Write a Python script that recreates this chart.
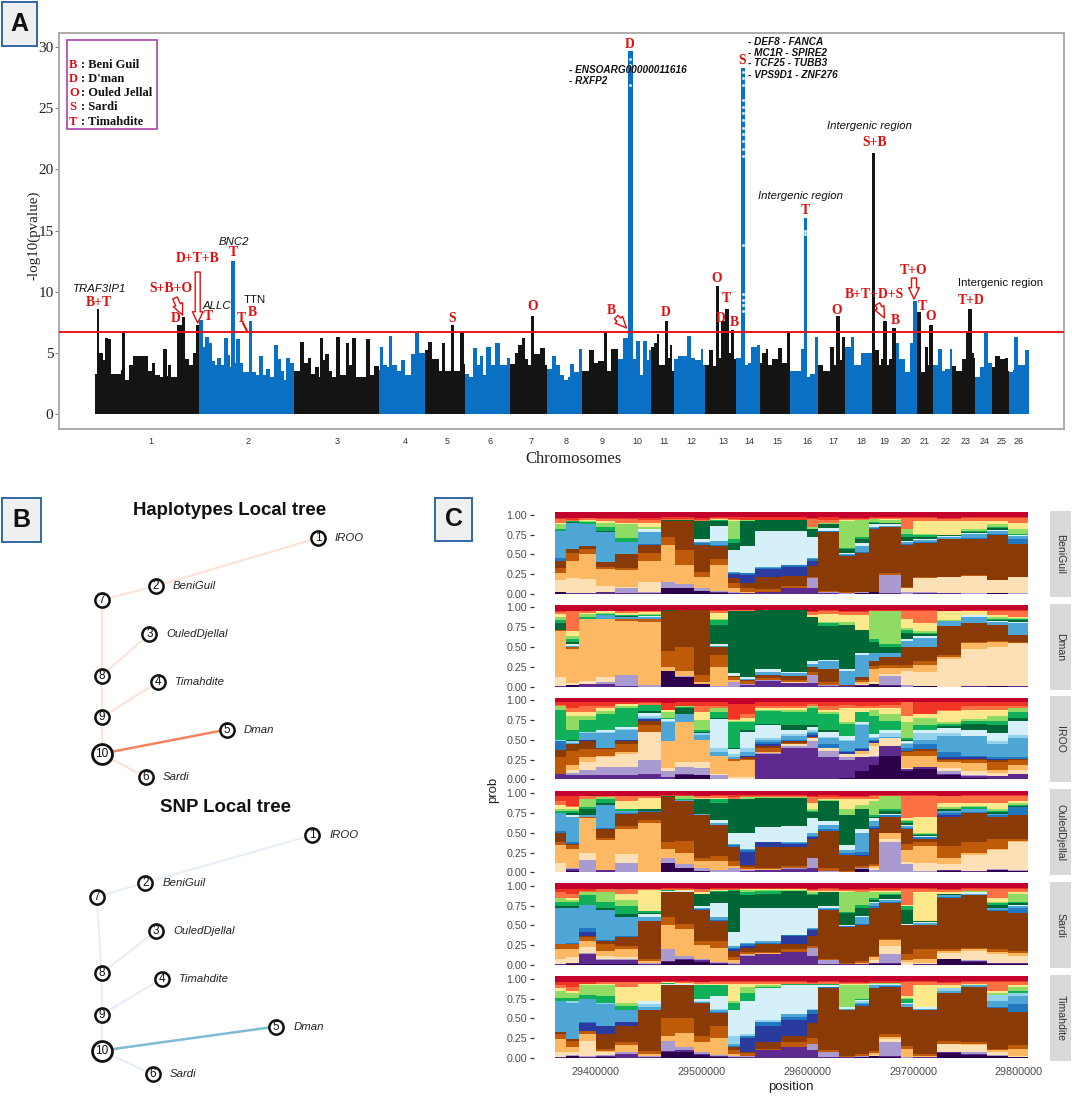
import numpy as np, pandas as pd, matplotlib
matplotlib.use("Agg")
import matplotlib.pyplot as plt, seaborn as sns
from matplotlib.patches import FancyArrowPatch, Rectangle

W, H = 1072, 1097
# ---------- Panel A data: Manhattan envelope (cumulative position, -log10 p) ----------
chrom_starts = [95,199.4,294.4,379,424.6,465.2,510,547.5,582.4,618,651.3,674.4,704.6,736,760,790.4,818,845.4,872,895.6,917,933,952,975.4,992,1009]
chrom_end = 1028.6
tick_pos = [150.5,248.3,337.5,405.6,447,490,531,566.5,602,637.7,664.2,691.7,723.6,749,777,807.4,833.5,861,884.8,906,924.8,945.5,965.5,985,1002,1019]
peak_x = [95,97,99,103.3,104.9,108.5,111,121,122,125,128.6,133,148,152,155,160,163,167.4,168.4,171.5,177,182,185.5,189,193,196,
 199.4,203.5,205,208.7,212,215,217,221,224,228,230.4,231.4,235.2,236.5,239.7,243,248.6,252.4,256,259,263.4,266.5,269.6,273.7,278,281,284,286,290,
 294.4,299.6,303.7,308,311,315,319,320,323.3,325.4,329.5,331.6,335.7,340,346,349,352,356,360.5,365.7,370,374,
 379,380,383,387.4,389.5,392.5,396.7,400.8,405,411,415,419.4,
 424.6,427.7,431.8,436,439,442,445,451,454.5,460.4,463.8,
 465.2,469,473,477,480,483.4,486.5,490.7,495,500,504,507,
 510,515.5,518,521.7,525,528,531,534.4,540,545,
 547.5,552.2,556.3,560.4,564.4,568.5,570.5,573.6,578.7,581.7,
 582.4,589,594,598,604,607.2,611,615.3,
 618,623.5,628.2,632.6,635.7,639.8,642.8,647,649,
 651.3,654,657,659,664.9,668.3,670.5,672.4,
 674.4,678.5,686.6,690.7,694.7,701,702.9,
 704.6,709,713,715.8,719.2,721.5,725.3,729,731,734.4,
 736,740.9,744.6,748,751,757,
 760,762,766,768,772,778,782,787,
 790.4,801.3,804,807,810,815,
 818,823,830,834,836.2,839.7,842,
 845.4,851,854,860.7,866,
 872,875.3,879,881,883.4,886.8,889.5,892.2,
 895.6,899,905,909.9,913.3,
 917,921,925,928.5,929.5,
 933,937.7,942,945,950,
 952,955.7,962.5,966,968.2,972,973.7,
 975.4,980,984.5,988,
 992,995.4,999.8,1005,1007.6,
 1009,1013.4,1014.4,1017.8,1023.5,1024.6]
peak_h = [3.3,8.6,5,4.4,6.2,6.1,3.3,3.6,6.7,2.8,4,4.7,3.5,4.2,3.2,3,5.3,3.1,4,3,7.3,7.9,4.5,4,5,7.3,
 7.7,5.5,6.3,5.8,4.3,4,4.6,4,6.2,4.8,3.8,12.5,4.2,6.1,4.2,3.4,7.6,3.4,3.2,4.7,3.2,3.7,3,5.6,4.5,3.5,2.8,4.6,4.2,
 3.5,5.9,4.2,4.6,3.3,3.8,3,6.2,4.4,4.9,3.5,3,6.3,3.2,5.8,4,6.2,3,3,6.1,3.2,3.9,
 3.6,5.5,4,3.8,6.4,4,3.5,4.4,3.2,4.9,6.7,5,
 5.2,5.9,4.5,4.5,3.5,5.8,3.5,7.3,3.5,6.7,4.1,
 3.3,3,5.4,4,4.7,3.2,5.5,4,5.8,4,4,4.6,
 4.1,5,5.6,6.2,4.5,4,8,4.9,5.4,4,
 3.7,4.7,4,3.2,2.8,3,4.1,3.4,5.3,4.2,
 3.5,5.2,4.2,4.3,6.7,3.5,5.3,5.3,
 4.5,6.2,29.7,4.5,6,3.2,6,4.4,5.2,
 5.5,5.8,6.5,4,7.6,4.6,5.6,3.5,
 4.5,4.7,6.4,4.6,4.4,5.3,4,
 4,5.2,3.9,10.5,4.6,7.6,8.6,5,6.9,4.5,
 4.6,28.3,4,4.2,5.5,5.6,
 4.2,5,5.3,4,4.5,5.4,4.2,6.7,
 3.5,5.3,16,3,3.3,6.3,
 4,3.5,5.5,4,8,4.4,6.3,
 5.5,6.3,4,5,5,
 21.3,5.2,4,4.5,7.6,4,4.5,7,
 5.8,4.5,3.4,5.8,9.2,
 8.3,3.4,5.5,4,7.3,
 4,5.3,3.5,3.7,5.3,
 3.9,3.5,4.5,6.7,8.6,5,4.6,
 3,3.8,6.7,4.2,
 3.8,4.7,4.5,4.6,3.5,
 3.4,3.6,6.3,4,4,5.2]
threshold = 6.7
dot_x = [742.7]*17 + [630.4]*3 + [805.5]*2
dot_y = [28,27.5,26.9,25.7,25.1,24.6,24,23.4,22.9,22.3,21.7,21.1,13.8,9.8,9.3,8.9,8.4,29,28.5,26.9,15,14.7]

# ---------- Panel C data: cumulative top of each ancestry layer, in percent ----------
pos_edges = [29360950,29372000,29384000,29400000,29418000,29440000,29461000,29475000,29493000,29508000,29525000,29536000,29550000,29575000,29600000,29610000,29630000,29645000,29658000,29668000,29688000,29700000,29722000,29745000,29770000,29790000,29808500]
layer_names = ["dp","pu","lp","pe","lo","or","bo","br","db","bl","sk","ls","pa","dg","gr","lg","ye","ro","re","dr"]
layer_colors = ["#2d004b","#5e2a8e","#a99bcf","#fee0b6","#fdb863","#f28a12","#bf5b08","#8a3b05","#2b3a9e","#1f78c0","#4da6d5","#92d2ec","#d6f0fa","#006837","#10b05a","#8fdb63","#fee88c","#ff7043","#f03525","#c4002c"]
re_top = [96,96,96,96,96,96,97,97,96,97,97,97,97,97,96,97,96,96,97,97,97,97,96,97,97,97]
beniguil = dict(
 dp=[2,0,0,0,0,0,8,7,4,1,0,0,0,0,0,0,0,1,2,0,0,0,0,0,1,0],
 pu=[2,1,1,2,1,1,8,7,4,2,1,1,2,7,8,1,0,1,2,1,0,1,1,0,1,0],
 lp=[2,1,1,3,8,2,15,13,7,4,2,1,2,7,20,3,1,2,3,24,2,2,1,1,1,1],
 pe=[18,20,19,10,9,15,15,13,7,4,2,1,2,7,20,3,1,2,3,24,8,20,22,23,18,21],
 lo=[26,42,50,32,30,42,62,36,22,36,8,3,2,8,20,3,1,2,3,24,8,20,22,23,18,21],
 bo=[33,52,57,34,33,52,72,55,28,44,14,8,6,10,22,4,2,3,3,26,9,21,22,24,18,22],
 br=[42,57,60,40,50,62,92,92,62,60,20,14,22,23,35,78,48,52,82,84,62,65,70,70,75,63],
 db=[42,57,60,40,50,62,92,92,62,60,25,24,32,34,42,78,48,52,82,84,62,65,70,70,75,63],
 bl=[45,57,60,41,51,63,92,92,64,62,27,26,33,36,44,79,49,53,83,84,63,66,70,71,76,70],
 sk=[80,90,88,78,66,78,92,92,66,67,28,27,34,36,45,80,50,60,85,86,66,68,72,76,80,73],
 pa=[80,90,88,78,66,82,92,92,70,86,55,60,80,80,72,83,52,65,88,88,67,70,73,77,81,74],
 dg=[80,91,88,80,66,82,93,93,92,92,65,92,94,94,82,88,57,70,89,89,72,72,74,78,83,75],
 gr=[82,92,91,84,71,82,93,94,92,94,70,92,94,94,82,88,58,72,91,90,76,74,74,79,85,76],
 lg=[88,92,92,90,88,85,93,94,92,94,92,94,94,94,84,89,92,93,95,94,82,76,75,82,88,82],
 ye=[90,92,93,92,90,90,94,94,92,95,93,94,94,94,85,90,93,93,95,95,82,92,92,92,92,90],
 ro=[95,93,96,95,95,93,95,95,94,96,95,94,94,94,95,94,95,95,96,96,96,96,95,96,96,96], re=re_top)
dman = dict(
 dp=[0,2,0,0,0,0,20,12,3,0,0,0,0,0,0,0,0,1,3,1,0,1,0,0,1,0],
 pu=[1,2,3,4,1,0,20,12,3,0,0,2,7,5,5,1,1,2,3,2,0,1,0,1,1,1],
 lp=[1,2,4,6,15,2,20,14,4,1,6,3,8,5,15,2,1,2,4,13,2,1,0,1,1,1],
 pe=[12,5,7,12,10,2,20,14,4,1,6,3,8,6,15,2,1,3,6,16,20,18,35,47,50,55],
 lo=[70,48,85,85,83,82,25,20,6,25,8,4,8,6,15,2,1,6,22,24,23,28,37,55,57,55],
 bo=[72,50,85,85,85,85,45,50,15,40,12,7,11,8,18,6,1,9,26,27,28,33,40,57,58,56],
 br=[72,50,85,85,85,86,96,97,97,50,13,8,15,14,25,22,2,12,33,38,50,50,77,80,78,65],
 sk=[72,52,85,90,88,88,96,97,97,52,14,10,18,17,29,33,20,40,42,42,58,62,83,88,82,80],
 pa=[72,54,85,90,88,89,96,97,97,54,17,12,22,19,33,34,22,42,43,43,60,64,83,90,83,82],
 dg=[80,56,85,91,89,89,97,97,97,78,95,96,97,97,88,76,78,72,56,50,68,66,83,90,84,84],
 gr=[84,60,88,92,90,90,97,97,97,84,95,96,97,97,88,80,78,72,60,54,72,68,83,90,85,85],
 lg=[88,64,92,93,91,92,97,97,97,86,95,96,97,97,88,82,82,72,95,96,74,70,84,91,88,87],
 ye=[92,70,93,95,93,94,97,97,97,93,96,96,97,97,90,92,90,90,95,96,85,80,95,95,90,88],
 ro=[94,95,95,96,96,95,97,97,97,96,97,97,97,97,94,96,94,94,96,96,96,95,96,96,96,96], re=re_top)
iroo = dict(
 dp=[0,0,1,1,1,1,1,6,5,1,0,0,0,0,0,0,2,10,18,30,10,13,5,2,1,1],
 pu=[7,6,5,6,6,7,3,7,6,1,0,0,32,40,40,28,25,28,28,42,13,15,7,4,4,7],
 lp=[7,8,12,16,16,25,11,16,14,6,1,1,33,42,48,36,28,28,30,42,13,15,10,6,4,7],
 pe=[7,12,22,28,32,60,14,22,22,7,3,3,33,44,52,40,32,32,42,52,14,16,14,10,8,12],
 lo=[7,18,28,30,35,60,48,72,50,30,23,24,34,45,52,40,32,36,46,52,30,30,22,20,12,18],
 bo=[28,36,38,38,44,68,48,72,50,30,26,26,40,46,53,40,32,36,46,52,34,36,25,25,22,24],
 br=[37,44,48,40,48,74,48,72,50,30,26,28,42,48,54,40,32,36,46,52,36,38,26,26,24,26],
 db=[37,44,50,40,50,76,48,72,50,30,26,30,45,48,56,40,34,38,48,52,36,38,28,28,26,26],
 bl=[48,44,50,40,50,76,48,72,50,30,26,30,47,50,58,45,36,40,50,52,40,45,35,30,28,28],
 sk=[48,46,58,58,62,78,72,82,56,35,28,34,50,55,60,52,48,68,52,54,45,50,55,55,45,52],
 ls=[50,48,60,60,64,80,74,82,58,40,32,40,52,57,62,54,50,70,54,58,46,58,58,55,48,56],
 pa=[50,48,60,62,66,84,76,82,58,76,38,60,68,62,66,60,55,72,57,62,48,62,65,62,58,74],
 dg=[50,50,60,62,66,86,76,90,60,78,40,62,70,68,68,62,55,72,57,62,50,62,67,70,68,78],
 gr=[88,62,75,82,90,94,78,91,62,85,72,72,86,85,90,82,70,85,80,74,52,68,70,73,73,85],
 lg=[92,80,80,86,92,94,85,92,75,90,74,74,88,88,93,85,72,85,88,82,72,78,72,76,80,90],
 ye=[92,85,85,90,95,94,88,92,85,90,75,78,90,90,93,88,90,90,90,90,80,82,86,88,88,90],
 ro=[94,90,92,92,95,96,88,92,92,92,76,82,92,92,95,92,94,92,92,94,97,82,88,92,92,92],
 re=[97,97,97,97,97,97,96,97,97,97,95,95,97,97,97,97,97,97,97,97,97,97,97,97,97,97])
ouled = dict(
 dp=[0,2,0,0,0,0,12,5,2,0,0,0,0,0,0,0,0,4,1,1,0,0,2,1,3,2],
 pu=[1,4,1,3,1,0,12,5,2,1,1,2,3,4,6,1,1,4,1,1,0,1,3,2,3,2],
 lp=[1,6,15,1,12,1,18,10,6,3,5,3,3,5,18,2,1,5,3,38,10,2,3,2,4,3],
 pe=[12,6,25,2,23,1,18,10,6,3,5,3,3,5,18,2,1,5,6,42,13,12,10,22,28,38],
 lo=[34,30,69,41,55,62,30,24,14,14,8,4,4,5,18,2,1,5,8,50,28,33,18,25,30,40],
 bo=[38,34,70,43,58,66,38,40,18,20,14,7,5,8,18,5,2,8,11,50,36,38,33,38,42,42],
 br=[50,36,70,55,74,76,95,90,72,60,32,9,32,32,42,52,22,20,55,70,55,42,70,75,70,72],
 db=[50,36,70,55,74,76,95,90,72,60,32,26,38,36,45,52,22,22,56,70,55,42,72,75,70,72],
 bl=[52,38,70,56,75,77,95,90,72,60,34,28,38,37,46,55,24,26,58,72,56,44,75,76,72,82],
 sk=[75,70,72,85,78,78,95,91,74,62,36,30,38,38,50,60,28,50,65,72,58,45,78,80,74,82],
 pa=[75,72,72,85,78,78,95,91,74,66,50,50,57,58,68,65,35,55,68,73,60,46,78,80,74,82],
 dg=[75,75,80,88,78,80,96,91,92,88,92,92,94,94,76,90,72,80,70,78,62,47,80,80,76,84],
 gr=[77,78,82,92,80,80,96,92,92,92,92,92,94,94,78,90,72,80,72,80,65,48,80,82,78,85],
 lg=[80,80,93,95,80,80,96,96,92,92,92,95,95,95,80,91,80,85,90,96,66,49,82,84,80,88],
 ye=[85,82,93,95,90,94,96,96,94,94,92,95,95,95,88,92,92,92,92,96,68,70,88,88,88,90],
 ro=[90,84,96,96,96,96,96,96,96,96,95,96,96,96,95,95,95,95,96,96,96,96,96,96,96,96], re=re_top)
sardi = dict(
 dp=[0,1,1,1,1,0,4,6,4,1,0,0,0,0,0,0,0,0,1,1,0,0,7,4,1,1],
 pu=[1,2,14,6,6,1,5,7,6,2,1,12,14,16,12,1,1,1,2,3,0,1,7,5,2,2],
 lp=[1,3,15,8,7,2,20,12,8,4,3,13,14,16,22,6,1,1,3,14,0,1,8,6,3,2],
 pe=[8,10,23,12,10,3,20,12,8,4,3,13,14,16,22,6,1,1,6,24,4,2,15,18,14,12],
 lo=[20,20,30,18,20,5,50,45,25,22,6,14,15,17,22,6,1,3,10,32,6,7,18,20,16,15],
 bo=[26,26,35,26,24,8,60,52,30,30,10,16,16,20,24,8,2,5,12,33,14,20,20,22,20,18],
 br=[26,26,37,30,35,55,92,92,70,55,18,22,26,26,36,70,48,50,72,78,50,50,85,88,68,66],
 db=[26,26,42,30,35,55,92,92,70,55,20,24,26,36,44,70,48,50,72,78,50,50,85,88,68,66],
 bl=[26,28,47,32,36,55,92,92,71,57,22,26,28,38,46,71,49,52,74,79,50,51,86,88,70,72],
 sk=[72,72,76,70,60,60,92,92,72,60,24,28,30,38,47,72,49,60,78,82,51,53,88,90,72,75],
 pa=[72,72,76,70,60,64,93,93,74,78,42,72,72,72,72,75,50,62,80,83,52,54,88,92,72,76],
 dg=[75,75,76,72,65,66,94,93,90,92,94,88,90,94,88,92,66,72,82,88,70,56,90,92,76,78],
 gr=[80,80,88,80,74,68,95,93,90,93,95,92,94,94,90,92,67,76,84,90,75,56,90,92,78,80],
 lg=[85,82,92,92,82,68,95,93,90,93,95,95,95,95,92,92,92,92,92,92,75,56,90,93,80,90],
 ye=[85,85,92,92,90,95,95,95,92,95,95,96,96,96,94,94,94,92,93,94,76,92,92,94,84,92],
 ro=[92,90,94,96,96,96,96,96,96,96,96,96,96,96,95,96,95,95,95,95,96,96,95,96,96,96], re=re_top)
timahdite = dict(
 dp=[0,2,0,1,0,0,8,8,4,1,0,0,0,0,0,0,0,1,2,1,0,0,6,4,3,1],
 pu=[1,3,1,3,5,1,9,10,5,2,1,1,10,14,10,1,1,1,3,2,0,1,7,5,3,1],
 lp=[1,4,3,4,7,2,22,14,8,4,2,2,10,14,18,7,1,2,3,20,1,1,8,7,4,1],
 pe=[8,8,22,8,8,3,22,14,8,4,2,2,10,14,18,7,1,2,4,24,1,1,18,16,8,2],
 lo=[24,14,30,9,16,5,28,32,20,25,5,3,10,14,18,7,1,2,6,26,12,2,18,18,10,12],
 bo=[30,22,34,12,20,9,50,50,28,40,10,6,11,20,25,10,2,5,9,30,15,5,22,20,12,16],
 br=[33,24,34,30,40,60,92,92,70,57,14,8,20,28,44,88,60,66,88,90,65,60,82,90,63,58],
 db=[33,24,44,40,45,60,92,92,70,57,14,25,40,48,55,88,60,66,88,90,65,60,82,90,63,58],
 bl=[33,24,46,41,46,60,92,92,70,58,15,28,45,52,60,89,60,68,88,91,65,60,82,90,65,68],
 sk=[72,70,75,68,60,65,92,92,71,60,18,28,46,55,61,90,62,70,92,92,68,62,85,92,72,78],
 ls=[72,72,75,70,60,68,92,92,72,62,28,30,48,55,62,90,62,72,92,92,68,62,88,92,80,82],
 pa=[72,72,75,70,60,72,93,93,74,78,60,72,88,92,92,92,64,73,93,93,70,64,88,92,80,82],
 gr=[76,76,80,78,66,72,95,94,92,92,70,82,90,93,93,93,64,75,94,94,74,64,88,92,80,84],
 lg=[85,82,92,92,70,72,95,94,92,92,72,90,92,94,93,93,92,92,95,95,76,65,88,92,82,90],
 ye=[88,85,94,94,90,93,96,95,93,94,93,94,94,94,94,94,94,94,95,95,78,92,92,94,85,92],
 ro=[92,90,94,96,96,96,96,96,96,96,96,96,96,96,95,96,95,95,95,95,96,96,95,96,96,96], re=re_top)
breeds = ["BeniGuil","Dman","IROO","OuledDjellal","Sardi","Timahdite"]
breed_data = [beniguil,dman,iroo,ouled,sardi,timahdite]
breed_zero = [594,686.7,779.3,872.3,965,1058]
pos_ticks = [29400000,29500000,29600000,29700000,29800000]

# ---------- Panel B data ----------
tree_edges = [(7,2),(2,1),(7,8),(8,3),(8,9),(9,4),(9,10),(10,6),(10,5)]
tree_names = {1:"IROO",2:"BeniGuil",3:"OuledDjellal",4:"Timahdite",5:"Dman",6:"Sardi"}
hap_xy = {1:(318,538),2:(155.7,586),3:(149.3,634),4:(158,682),5:(226.7,729.6),6:(145.7,777.4),7:(101.7,600),8:(101.7,675.6),9:(101.7,717.3),10:(101.7,753.7)}
snp_xy = {1:(312.3,835.2),2:(145.3,882.7),3:(156,930.9),4:(161.7,978.7),5:(276,1026.6),6:(152.7,1074.4),7:(96.7,896.8),8:(101.7,973),9:(101.7,1014.7),10:(101.7,1050.6)}
hap_lbl = {1:335,2:172.7,3:166,4:175.3,5:243.3,6:162.3}
snp_lbl = {1:330,2:162.7,3:173.3,4:179.3,5:293.3,6:170}

# ---------- Labels of panel A ----------
red_labels = [("B+T",98.8,303),("S+B+O",171,289),("D+T+B",197.7,259),("D",175.6,319),("T",208,317),("T",233.8,253),("T",241,318),("B",252.4,312),("S",452,318),("O",533,307),
 ("D",630,44),("S",742.6,60),("B",611,311),("D",666,313),("O",717,279),("T",726.6,298),("D",721,318),("B",734,322),("T",805,210),("O",837,310),("S+B",875,143),("B+T+D+S",874.6,294),("B",895,321),("T+O",914,271),("T",922.4,306),("O",931,317),("T+D",971,301)]
gene_labels = [("TRAF3IP1",99.9,289,"center","italic","normal"),("BNC2",234,242,"center","italic","normal"),("ALLC",216.6,306,"center","italic","normal"),("TTN",254.5,300,"center","normal","normal"),
 ("Intergenic region",869.5,126,"center","italic","normal"),("Intergenic region",800,196,"center","italic","normal"),("Intergenic region",1000,283,"center","normal","normal"),
 ("- ENSOARG00000011616",568.8,70,"left","italic","bold"),("- RXFP2",568.8,81,"left","italic","bold"),
 ("- DEF8 - FANCA",747.7,42,"left","italic","bold"),("- MC1R - SPIRE2",747.7,53,"left","italic","bold"),("- TCF25 - TUBB3",747.7,63,"left","italic","bold"),("- VPS9D1 - ZNF276",747.7,75,"left","italic","bold")]
legend_rows = [("B",": Beni Guil",64.5),("D",": D'man",79),("O",": Ouled Jellal",93),("S",": Sardi",107.5),("T",": Timahdite",122)]
hollow_arrows = [(197.7,272,197.7,323,"big"),(175,298,182.5,315,"small"),(616.3,317,626.5,328,"small"),(877.6,304,884.4,318,"small"),(914,278,914,299,"big")]

# ---------- Drawing ----------
sns.set_theme(style="white")
plt.rcParams["font.family"] = ["Liberation Sans","DejaVu Sans"]
fig = plt.figure(figsize=(W/100,H/100),dpi=100,facecolor="white")
def px_axes(l,t,r,b,**k):
    return fig.add_axes([l/W,1-b/H,(r-l)/W,(b-t)/H],**k)
SERIF = "Liberation Serif"

# Panel A
axA = px_axes(59,33,1064,429)
edges = [float(v) for v in peak_x]+[chrom_end]
edge_arr = np.array(edges)
chrom_idx = np.searchsorted(chrom_starts,peak_x,side="right")-1
manh = pd.DataFrame({"x":(edge_arr[:-1]+edge_arr[1:])/2,"h":peak_h,"grp":np.where(chrom_idx%2==0,"odd","even")})
sns.histplot(data=manh,x="x",weights="h",bins=edges,hue="grp",palette={"odd":"#141414","even":"#0a70c4"},
             multiple="layer",element="step",alpha=1,linewidth=0,legend=False,ax=axA)
sns.scatterplot(x=dot_x,y=dot_y,s=5,color="#bfe6f2",linewidth=0,ax=axA,zorder=3)
axA.axhline(threshold,color="#e8141c",lw=1.4,zorder=4)
axA.set_xlim(59,1064); axA.set_ylim(-1.23,31.15)
axA.set_xticks(tick_pos); axA.set_xticklabels([str(i+1) for i in range(26)],fontsize=6.5,color="#333333")
axA.set_yticks(range(0,31,5)); axA.set_yticklabels([str(v) for v in range(0,31,5)],fontsize=11,family=SERIF,color="#222222")
axA.tick_params(axis="y",length=3,width=0.8,color="#888888",pad=1,left=True)
axA.tick_params(axis="x",length=0,pad=6)
axA.set_xlabel(""); axA.set_ylabel("")
for s in axA.spines.values(): s.set_color("#a6a6a6"); s.set_linewidth(1.3)

# Panel C
order_top_first = layer_names[::-1]
palette = dict(zip(layer_names,layer_colors))
pe_list = [float(v) for v in pos_edges]
pe = np.array(pe_list); mids = (pe[:-1]+pe[1:])/2
px_left, px_right = 534, 1048
x_per_px = 100000/105.75
xlim_c = (29400000+(px_left-596)*x_per_px, 29400000+(px_right-596)*x_per_px)
for name,rows,zero in zip(breeds,breed_data,breed_zero):
    ax = px_axes(px_left,zero-81.6,px_right,zero+2.4)
    prev = np.zeros(26); recs = []
    for lay in layer_names:
        if lay=="dr":
            top = np.full(26,103.0)
        elif lay in rows:
            top = np.maximum(np.array(rows[lay],float),prev)
        else:
            top = prev
        recs.append(pd.DataFrame({"position":mids,"layer":lay,"prob":(top-prev)/100}))
        prev = top
    df = pd.concat(recs,ignore_index=True)
    sns.histplot(data=df,x="position",weights="prob",bins=pe_list,hue="layer",hue_order=order_top_first,palette=palette,
                 multiple="stack",element="step",alpha=1,linewidth=0,legend=False,ax=ax)
    ax.set_xlim(*xlim_c); ax.set_ylim(-0.03,1.03)
    ax.set_yticks([0,.25,.5,.75,1]); ax.set_yticklabels(["0.00","0.25","0.50","0.75","1.00"],fontsize=7.7,color="#4d4d4d")
    ax.tick_params(axis="y",length=3,width=0.9,color="#333333",pad=2,left=True)
    ax.set_xlabel(""); ax.set_ylabel("")
    if name==breeds[-1]:
        ax.set_xticks(pos_ticks); ax.set_xticklabels([str(p) for p in pos_ticks],fontsize=7.8,color="#4d4d4d")
        ax.tick_params(axis="x",length=0,pad=5)
    else:
        ax.set_xticks([])
    for s in ax.spines.values(): s.set_visible(False)

# Overlay in pixel coordinates
ov = fig.add_axes([0,0,1,1],zorder=10); ov.set_xlim(0,W); ov.set_ylim(H,0); ov.axis("off"); ov.patch.set_alpha(0)
def T(x,y,s,**k):
    k.setdefault("ha","center"); k.setdefault("va","center")
    return ov.text(x,y,s,**k)
for l,t,r,b,c in [(1.7,1.7,37,45.7,"A"),(1.7,498.4,40.7,541.7,"B"),(435,498,472,541,"C")]:
    ov.add_patch(Rectangle((l,t),r-l,b-t,fc="#efefef",ec="#2e6aa6",lw=1.4))
    T((l+r)/2,(t+b)/2,c,fontsize=18,fontweight="bold",color="#111111")
T(33.5,235,"-log10(pvalue)",rotation=90,family=SERIF,fontsize=10.8,color="#222222")
T(574,459,"Chromosomes",family=SERIF,fontsize=12,color="#222222")
ov.add_patch(Rectangle((66.5,40),90.9,89,fc="white",ec="#b44fb0",lw=1.3))
for a,b,y in legend_rows:
    T(69.2,y,a,ha="left",family=SERIF,fontweight="bold",fontsize=9,color="#e01010")
    T(81,y,b,ha="left",family=SERIF,fontweight="bold",fontsize=9,color="#111111")
for s,x,y in red_labels:
    T(x,y,s,family=SERIF,fontweight="bold",fontsize=9.8,color="#e01010")
for s,x,y,ha,st,wt in gene_labels:
    T(x,y,s,ha=ha,style=st,fontweight=wt,fontsize=7.2 if wt=="bold" else 8.2,color="#111111")
for x0,y0,x1,y1,kind in hollow_arrows:
    sty = "simple,head_length=0.9,head_width=0.85,tail_width=0.4" if kind=="big" else "simple,head_length=0.9,head_width=0.8,tail_width=0.4"
    ov.add_patch(FancyArrowPatch((x0,y0),(x1,y1),arrowstyle=sty,mutation_scale=9,fc="white",ec="#e01010",lw=1,shrinkA=0,shrinkB=0,zorder=5))
ov.plot([243,247],[323,331],color="#e01010",lw=1.5)

# facet strips and axis titles of panel C
for name,zero in zip(breeds,breed_zero):
    ov.add_patch(Rectangle((1050,zero-83),21,86,fc="#d9d9d9",ec="none"))
    T(1060.5,zero-40,name,rotation=-90,fontsize=7.6,color="#333333")
T(791,1087,"position",fontsize=9.5,color="#222222")
T(493,790,"prob",rotation=90,fontsize=9.5,color="#222222")

# Panel B
def draw_tree(xy,lbl,light,strong):
    for a,b in tree_edges:
        st = (a,b)==(10,5)
        ov.plot([xy[a][0],xy[b][0]],[xy[a][1],xy[b][1]],color=strong if st else light,lw=1.8 if st else 1.5,zorder=1,solid_capstyle="round")
    nodes = pd.DataFrame({"x":[xy[i][0] for i in xy],"y":[xy[i][1] for i in xy],"n":list(xy)})
    sns.scatterplot(data=nodes[nodes.n<10],x="x",y="y",s=105,color="white",edgecolor="#111111",linewidth=1.8,ax=ov,zorder=2,legend=False)
    sns.scatterplot(data=nodes[nodes.n==10],x="x",y="y",s=205,color="white",edgecolor="#111111",linewidth=2,ax=ov,zorder=2,legend=False)
    for i,(x,y) in xy.items():
        T(x,y,str(i),fontsize=8.5,color="#111111",zorder=3)
    for i,x in lbl.items():
        T(x,xy[i][1],tree_names[i],ha="left",style="italic",fontsize=8.2,color="#222222")
draw_tree(hap_xy,hap_lbl,"#fde3d6","#f4845f")
draw_tree(snp_xy,snp_lbl,"#e8eef9","#7fbcd2")
T(230,510.7,"Haplotypes Local tree",fontsize=13.4,fontweight="bold",color="#111111")
T(225,807,"SNP Local tree",fontsize=13.4,fontweight="bold",color="#111111")
ov.set_xlim(0,W); ov.set_ylim(H,0); ov.set_xlabel(""); ov.set_ylabel("")
fig.savefig("out.png",dpi=100)
